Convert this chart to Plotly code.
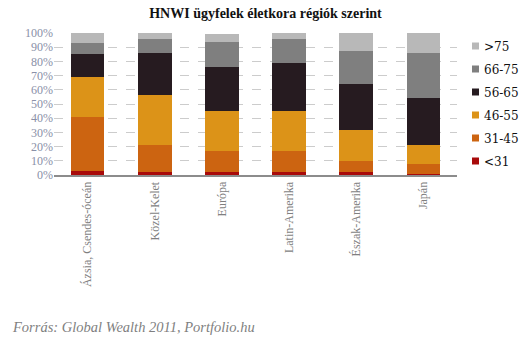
import plotly.graph_objects as go

regions = ["Ázsia, Csendes-óceán", "Közel-Kelet", "Európa", "Latin-Amerika", "Észak-Amerika", "Japán"]
age_groups = ["<31", "31-45", "46-55", "56-65", "66-75", ">75"]

# share of HNWI clients per age group, by region (%)
lt31 = [3, 2, 2, 2, 2, 1]
a31_45 = [38, 19, 15, 15, 8, 7]
a46_55 = [28, 35, 28, 28, 22, 13]
a56_65 = [16, 30, 31, 34, 32, 33]
a66_75 = [8, 10, 18, 17, 23, 32]
gt75 = [7, 4, 5, 4, 13, 14]

series = [lt31, a31_45, a46_55, a56_65, a66_75, gt75]
colors = ["#A80A0A", "#CC6411", "#DC9318", "#261B20", "#7F7F7F", "#B8B8B8"]

# plot area in pixels
L, R, T, B = 54, 74, 33, 167
W, H = 531, 342
PW, PH = W - L - R, H - T - B

def px_x(px):
    return (px - L) / PW

def px_y(py):
    return (H - B - py) / PH

fig = go.Figure()
for name, vals, col in zip(age_groups, series, colors):
    fig.add_trace(go.Bar(
        x=regions, y=vals, name=name, marker_color=col,
        marker_line_width=0, showlegend=False,
    ))

# legend: small squares with labels, top entry = oldest group
for i, (name, col) in enumerate(zip(reversed(age_groups), reversed(colors))):
    cy = 46 + i * 23
    fig.add_shape(type="rect", xref="paper", yref="paper",
                  x0=px_x(472), x1=px_x(479), y0=px_y(cy + 3.5), y1=px_y(cy - 3.5),
                  fillcolor=col, line_width=0)
    fig.add_annotation(text=name, xref="paper", yref="paper",
                       x=px_x(482), y=px_y(cy + 1), xanchor="left", yanchor="middle",
                       showarrow=False,
                       font=dict(family="DejaVu Serif", size=12, color="#111"))

fig.update_layout(
    barmode="stack",
    bargap=0.5,
    width=W, height=H,
    margin=dict(l=L, r=R, t=T, b=B),
    paper_bgcolor="white", plot_bgcolor="white",
    title=dict(text="<b>HNWI ügyfelek életkora régiók szerint</b>",
               x=0.5, xanchor="center", y=0.962, yanchor="middle",
               font=dict(family="Liberation Serif", size=14, color="#111")),
    font=dict(family="Liberation Serif"),
    showlegend=False,
)
fig.update_xaxes(
    showline=True, linecolor="#8C8C8C", linewidth=2,
    tickangle=-90, ticks="",
    tickfont=dict(family="Liberation Serif", size=12, color="#7F7F7F"),
)
fig.update_yaxes(
    range=[0, 100], dtick=10, ticksuffix="%",
    showgrid=True, gridcolor="#CCCCCC", griddash="dash", gridwidth=1,
    zeroline=False,
    tickfont=dict(family="Liberation Serif", size=12, color="#8A90A8"),
)
fig.add_annotation(
    text="<i>Forrás: Global Wealth 2011, Portfolio.hu</i>",
    xref="paper", yref="paper", x=px_x(10), y=px_y(327),
    xanchor="left", yanchor="middle", showarrow=False,
    font=dict(family="Liberation Serif", size=14.5, color="#7F7F7F"),
)
fig.write_html("out.html")
